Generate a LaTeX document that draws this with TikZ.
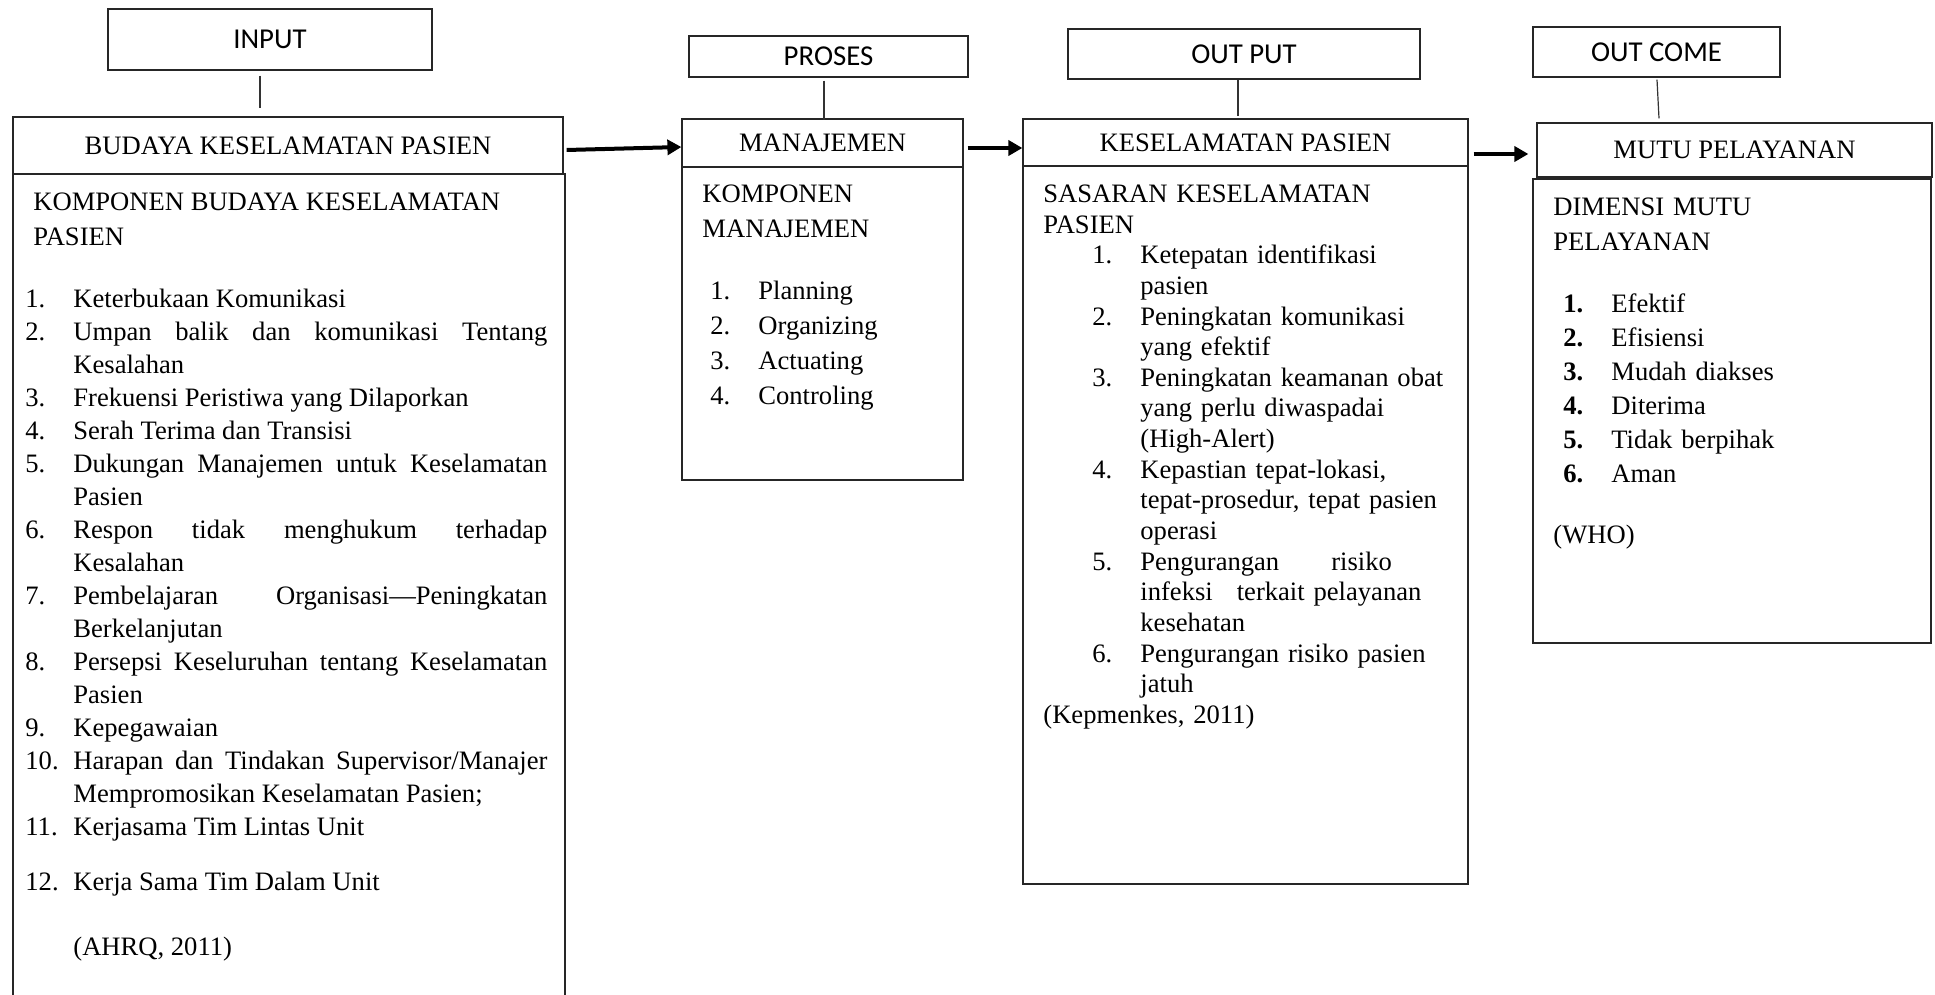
\documentclass[tikz,border=0pt]{standalone}
\usepackage{fontspec}
\setmainfont{Liberation Serif}
\newfontfamily\tagfont{Carlito}
\usetikzlibrary{arrows.meta,calc}
\setlength{\parskip}{0pt}

% one numbered line: #1 label indent, #2 label, #3 text
\newcommand{\lsitem}[3]{\par\noindent\hangindent=\dimexpr#1+24pt\relax\hangafter=1
  \hspace*{#1}\makebox[24pt][l]{#2}#3\par}

\tikzset{
  tagbox/.style={draw=black!85, line width=0.6pt, inner sep=0pt, font=\tagfont\fontsize{14.4}{17}\selectfont},
  headbox/.style={draw=black!85, line width=0.6pt, inner sep=0pt, font=\fontsize{13.3}{16}\selectfont},
  bodybox/.style={draw=black!85, line width=0.6pt, inner sep=0pt},
  bodytext/.style={anchor=north west, inner sep=0pt},
  link/.style={draw=black!80, line width=0.6pt},
  flow/.style={line width=2pt, -{Triangle[length=7pt,width=7.5pt]}},
}

\begin{document}
\begin{tikzpicture}[x=0.5pt, y=-0.5pt]
    \useasboundingbox[fill=white] (0,0) rectangle (1935,995);

    % top tags
    \node[tagbox, minimum width=162pt, minimum height=30.5pt] (inp) at (270,39.5) {INPUT};
    \node[tagbox, minimum width=139.5pt, minimum height=20.5pt] (prs) at (828.5,56.5) {PROSES};
    \node[tagbox, minimum width=176pt, minimum height=25pt] (outp) at (1244,54) {OUT PUT};
    \node[tagbox, minimum width=123.5pt, minimum height=25pt] (outc) at (1656.5,52) {OUT COME};

    % headers
    \node[headbox, minimum width=275pt, minimum height=28.5pt] (budh) at (288,145.5) {BUDAYA KESELAMATAN PASIEN};
    \node[headbox, minimum width=140.5pt, minimum height=24pt] (manh) at (822.5,143) {MANAJEMEN};
    \node[headbox, minimum width=222.5pt, minimum height=23.5pt] (kesh) at (1245.5,142.5) {KESELAMATAN PASIEN};
    \node[headbox, minimum width=197.5pt, minimum height=27pt] (mutuh) at (1734.5,150) {MUTU PELAYANAN};

    % bodies
    \node[bodybox, minimum width=276pt, minimum height=411.5pt] (budb) at (289,585.5) {};
    \node[bodybox, minimum width=140.5pt, minimum height=156.5pt] (manb) at (822.5,323.5) {};
    \node[bodybox, minimum width=222.5pt, minimum height=359pt] (kesb) at (1245.5,525) {};
    \node[bodybox, minimum width=199pt, minimum height=232pt] (mutub) at (1732,411) {};

    % texts in the bodies
    \node[bodytext, text width=261pt, align=justify, font=\fontsize{13.3}{16.5}\selectfont] (budtxt) at (25,187) {%
      \noindent\strut\hspace*{4pt}KOMPONEN BUDAYA KESELAMATAN\\[1pt]
      \hspace*{4pt}PASIEN\par
      \vspace{14.5pt}
      \lsitem{0pt}{1.}{Keterbukaan Komunikasi}
      \lsitem{0pt}{2.}{Umpan balik dan komunikasi Tentang\linebreak Kesalahan}
      \lsitem{0pt}{3.}{Frekuensi Peristiwa yang Dilaporkan}
      \lsitem{0pt}{4.}{Serah Terima dan Transisi}
      \lsitem{0pt}{5.}{Dukungan Manajemen untuk Keselamatan\linebreak Pasien}
      \lsitem{0pt}{6.}{Respon tidak menghukum terhadap\linebreak Kesalahan}
      \lsitem{0pt}{7.}{Pembelajaran Organisasi—Peningkatan\linebreak Berkelanjutan}
      \lsitem{0pt}{8.}{Persepsi Keseluruhan tentang Keselamatan\linebreak Pasien}
      \lsitem{0pt}{9.}{Kepegawaian}
      \lsitem{0pt}{10.}{Harapan dan Tindakan Supervisor/Manajer\linebreak Mempromosikan Keselamatan Pasien;}
      \lsitem{0pt}{11.}{Kerjasama Tim Lintas Unit}
      \vspace{11pt}
      \lsitem{0pt}{12.}{Kerja Sama Tim Dalam Unit}
      \vspace{16pt}
      \noindent\hspace*{24pt}(AHRQ, 2011)};

    \node[bodytext, text width=125pt, align=left, font=\fontsize{13.3}{17.5}\selectfont] (mantxt) at (702,177.5) {%
      \noindent\strut KOMPONEN\\
      MANAJEMEN\par
      \vspace{13.5pt}
      \lsitem{4pt}{1.}{Planning}
      \lsitem{4pt}{2.}{Organizing}
      \lsitem{4pt}{3.}{Actuating}
      \lsitem{4pt}{4.}{Controling}};

    \node[bodytext, text width=210pt, align=left, font=\fontsize{13.3}{15.33}\selectfont] (kestxt) at (1043,180.5) {%
      \noindent\strut SASARAN KESELAMATAN\\
      PASIEN\par
      \lsitem{24.5pt}{1.}{Ketepatan identifikasi\newline pasien}
      \lsitem{24.5pt}{2.}{Peningkatan komunikasi\newline yang efektif}
      \lsitem{24.5pt}{3.}{Peningkatan keamanan obat\newline yang perlu diwaspadai\newline (High-Alert)}
      \lsitem{24.5pt}{4.}{Kepastian tepat-lokasi,\newline tepat-prosedur, tepat pasien\newline operasi}
      \lsitem{24.5pt}{5.}{Pengurangan\hspace{26pt}risiko\newline infeksi\hspace{12pt}terkait pelayanan\newline kesehatan}
      \lsitem{24.5pt}{6.}{Pengurangan risiko pasien\newline jatuh}
      \noindent(Kepmenkes, 2011)};

    \node[bodytext, text width=180pt, align=left, font=\fontsize{13.3}{17}\selectfont] (mututxt) at (1553,191) {%
      \noindent\strut DIMENSI MUTU\\[0.5pt]
      PELAYANAN\par
      \vspace{14pt}
      \lsitem{5pt}{\textbf{1.}}{Efektif}
      \lsitem{5pt}{\textbf{2.}}{Efisiensi}
      \lsitem{5pt}{\textbf{3.}}{Mudah diakses}
      \lsitem{5pt}{\textbf{4.}}{Diterima}
      \lsitem{5pt}{\textbf{5.}}{Tidak berpihak}
      \lsitem{5pt}{\textbf{6.}}{Aman}
      \vspace{13.5pt}
      \noindent(WHO)};

    % tag to header links
    \draw[link] ($(inp.south)+(-10,5)$) -- ($(inp.south |- budh.north)+(-10,-8)$);
    \draw[link] ($(prs.south)+(-4.5,3)$) -- ($(prs.south |- manh.north)+(-4.5,2)$);
    \draw[link] ($(outp.south)+(-6,0)$) -- ($(outp.south |- kesh.north)+(-6,-2)$);
    \draw[link] ($(outc.south)+(0.5,2)$) -- ($(outc.south |- mutuh.north)+(2.5,-4)$);

    % flow arrows
    \draw[flow] ($(budh.east)+(3,4.5)$) -- ($(manh.west)+(0,4)$);
    \draw[flow] ($(manh.east)+(4,5)$) -- ($(kesh.west)+(0,5.5)$);
    \draw[flow] ($(kesh.east)+(5,11.5)$) -- ($(mutuh.west)+(-8,4)$);
\end{tikzpicture}
\end{document}
